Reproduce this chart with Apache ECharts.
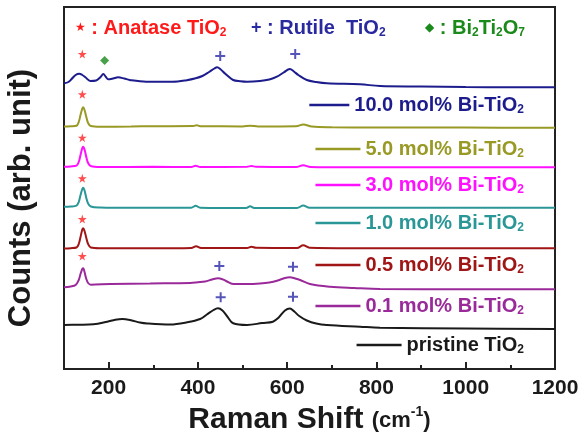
<!DOCTYPE html>
<html><head><meta charset="utf-8">
<script src="https://cdn.jsdelivr.net/npm/echarts@6/dist/echarts.min.js"></script>
<style>html,body{margin:0;padding:0;background:#fff}#c{width:582px;height:445px}</style>
</head><body><div id="c"></div>
<script>
// ---- data (y values are offset arbitrary counts) ----
const xTickValues = [200, 400, 600, 800, 1000, 1200];
const xMinorTickValues = [300, 500, 700, 900, 1100];
const seriesNames = ['10.0 mol% Bi-TiO2','5.0 mol% Bi-TiO2','3.0 mol% Bi-TiO2','1.0 mol% Bi-TiO2','0.5 mol% Bi-TiO2','0.1 mol% Bi-TiO2','pristine TiO2'];
const seriesColors = ['#1c1c8c','#999926','#ff10ff','#2a9696','#a01616','#9a2a9a','#1a1a1a'];

const bi100 = [[100,285.7],[110,287],[117,290],[126,294],[134,295.3],[141,294],[148,291.7],[159,288],[172,288.5],[182,292],[188,295],[194,292],[199,289.7],[210,290.5],[221,291.7],[235,290.5],[247,289],[284,287.3],[343,287.3],[375,288.8],[395,290.7],[410,293],[425,297],[437,300.5],[443,301.7],[450,300],[462,295],[479,289],[495,287.8],[510,287.3],[539,288],[560,289.5],[577,292.3],[592,296.5],[606,300],[615,297.5],[625,294],[644,289],[665,287],[689,285.7],[763,284.7],[808,283],[900,282.5],[1000,282],[1100,281.8],[1200,281.7]];
const bi50 = [[100,242.5],[115,242.8],[128,243.3],[133,247],[137,254],[141,260.5],[143,261.7],[146,259],[150,252],[154,246],[160,243],[181,242.3],[250,242.5],[300,242.8],[390,243],[397,243.8],[405,242.8],[500,242.6],[517,243.3],[535,242.6],[620,242.8],[636,244.5],[655,242.5],[700,241.8],[800,241.5],[1000,241.4],[1200,241.3]];
const bi30 = [[100,202.3],[115,202.6],[128,203.3],[133,207],[137,214],[141,221],[143,222.3],[146,219.5],[150,212],[154,206],[160,203],[181,202],[300,202.2],[385,202],[395,203.3],[405,202],[510,202.2],[520,203],[530,202.2],[620,202],[636,203.8],[652,202],[700,201.8],[900,201.7],[1200,201.7]];
const bi10 = [[100,162.3],[115,162.5],[128,163.3],[133,167],[137,174],[141,180],[143,181.3],[146,178.5],[150,171],[154,165.5],[160,162.5],[181,161.5],[250,161.2],[385,161.3],[395,163.2],[405,161.3],[508,161],[517,162.7],[526,161],[622,161],[636,163.5],[650,161.3],[740,161.2],[1200,161.3]];
const bi05 = [[100,120.5],[115,120.8],[128,121.5],[133,125],[137,132],[141,139.5],[143,140.7],[146,138],[150,131],[154,125],[160,121.5],[181,120.8],[300,120.7],[385,121],[396,122.7],[407,121],[510,121],[520,122.3],[530,121.2],[622,121],[636,123.7],[650,121.3],[750,120.8],[1200,120.7]];
const bi01 = [[100,81.7],[115,82.5],[126,84],[133,89],[137,95],[141,100],[143,100.7],[146,97],[150,90],[154,86],[160,84.3],[204,85],[293,85.5],[383,86],[400,86.7],[416,87.5],[432,89.5],[445,90.7],[455,89.8],[463,88],[479,85],[510,85],[539,85.5],[560,86.5],[579,88.5],[595,91],[606,91.7],[618,90.5],[629,89],[651,85],[696,82.3],[750,81],[808,80],[1000,79.8],[1200,79.7]];
const pristine = [[100,44],[130,44.3],[166,44.7],[197,47.3],[215,49.3],[231,50],[250,48.8],[270,46.5],[287,45.5],[338,44.5],[376,46.7],[405,50],[420,54.5],[435,59],[445,60.7],[455,58.5],[465,53],[479,45.7],[510,44],[544,46],[568,47.3],[580,51],[595,58.5],[606,60.5],[616,57.5],[627,53],[644,48.5],[665,45.5],[689,44],[763,42.3],[808,41.3],[1000,40.5],[1200,40]];
const spectra = [bi100, bi50, bi30, bi10, bi05, bi01, pristine];

const anataseMarks = [[141,315],[141,274.7],[141,231.3],[141,190.7],[141,150],[141,113]];
const rutileMarks = [[450,313],[618,315],[448,103],[613,102.3],[451,71.7],[613,72.3]];
const biMarks = [[191,308.5]];
const legendCenters = [105,149,185,223,265,306,345];

// ---- chart ----
const FF = '"Liberation Sans", Arial, sans-serif';
const subRich = (size) => ({
  t: {fontSize: size, fontWeight: 'bold', fontFamily: FF, lineHeight: 24},
  s: {fontSize: 12, fontWeight: 'bold', fontFamily: FF, lineHeight: 12, verticalAlign: 'bottom', padding: [0,0,1,0]},
  m: {fontSize: 12, fontFamily: 'DejaVu Sans', lineHeight: 24},
  p: {fontSize: 18, fontWeight: 'bold', fontFamily: FF, lineHeight: 24}
});
const fmtName = n => n.replace(/^(.*TiO)2$/, '{t|$1}{s|2}');

const chart = echarts.init(document.getElementById('c'), null, {renderer: 'canvas'});
const series = spectra.map((d, i) => ({
  name: seriesNames[i], type: 'line', data: d, xAxisIndex: 0, yAxisIndex: 0,
  symbol: 'none', smooth: 0.35, lineStyle: {color: seriesColors[i], width: 2}, itemStyle: {color: seriesColors[i]},
  silent: true, z: 3
}));
const starPath = 'path://M50,0 L61,35 L98,35 L68,57 L79,91 L50,70 L21,91 L32,57 L2,35 L39,35 Z';
const plusPath = 'path://M40,0 H60 V40 H100 V60 H60 V100 H40 V60 H0 V40 H40 Z';
series.push({type: 'scatter', data: anataseMarks, symbol: starPath, symbolSize: 9, itemStyle: {color: '#ff2020'}, silent: true, z: 4});
series.push({type: 'scatter', data: rutileMarks, symbol: plusPath, symbolSize: 10, itemStyle: {color: '#2a2aa8'}, silent: true, z: 4});
series.push({type: 'scatter', data: biMarks, symbol: 'diamond', symbolSize: 9, itemStyle: {color: '#1a8a1a'}, silent: true, z: 4});

const legends = seriesNames.map((n, i) => ({
  data: [n], right: 58, top: legendCenters[i] - 10, padding: 0, icon: 'rect',
  itemWidth: i === 0 ? 40 : 45, itemHeight: 2.5, selectedMode: false,
  formatter: fmtName,
  textStyle: {color: seriesColors[i], fontSize: 20, fontWeight: 'bold', fontFamily: FF, rich: subRich(20)}
}));

const option = {
  animation: false,
  backgroundColor: '#fff',
  grid: [
    {left: 64, right: 27, top: 7, bottom: 76, show: true, borderColor: '#222', borderWidth: 2, backgroundColor: 'transparent', outerBoundsMode: 'none', containLabel: false},
    {left: 64, right: 27, top: 7, bottom: 76, show: false, outerBoundsMode: 'none', containLabel: false}
  ],
  legend: legends,
  xAxis: [
    {type: 'value', gridIndex: 0, min: 100, max: 1200,
     axisLine: {show: false}, splitLine: {show: false},
     axisTick: {inside: true, length: 7, customValues: xTickValues, lineStyle: {color: '#222', width: 2}},
     axisLabel: {customValues: xTickValues, margin: 9, fontSize: 21, fontWeight: 'bold', color: '#1a1a1a', fontFamily: FF, formatter: v => String(v)},
     name: '{a|Raman Shift }{b|(cm}{c|-1}{b|)}', nameLocation: 'middle', nameGap: 36,
     nameTextStyle: {color: '#1a1a1a', rich: {
       a: {fontSize: 30, fontWeight: 'bold', fontFamily: FF, lineHeight: 30, verticalAlign: 'bottom'},
       b: {fontSize: 22, fontWeight: 'bold', fontFamily: FF, lineHeight: 22, verticalAlign: 'bottom', padding: [0,0,3,0]},
       c: {fontSize: 14, fontWeight: 'bold', fontFamily: FF, lineHeight: 14, verticalAlign: 'top'}
     }}},
    {type: 'value', gridIndex: 1, min: 100, max: 1200,
     axisLine: {show: false}, splitLine: {show: false}, axisLabel: {show: false},
     axisTick: {inside: true, length: 4, customValues: xMinorTickValues, lineStyle: {color: '#222', width: 2}}}
  ],
  yAxis: [
    {type: 'value', gridIndex: 0, min: 0, max: 362,
     axisLine: {show: false}, axisTick: {show: false}, axisLabel: {show: false}, splitLine: {show: false},
     name: 'Counts (arb. unit)', nameLocation: 'middle', nameGap: 27,
     nameTextStyle: {fontSize: 31, fontWeight: 'bold', fontFamily: FF, color: '#1a1a1a', padding: [0, 20, 0, 0]}},
    {type: 'value', gridIndex: 1, min: 0, max: 362, show: false}
  ],
  graphic: [
    {type: 'text', x: 75, y: 28, silent: true, style: {text: '{m|★}{t| : Anatase TiO}{s|2}', fill: '#ff1a1a', verticalAlign: 'middle', rich: subRich(20)}},
    {type: 'text', x: 251, y: 28, silent: true, style: {text: '{p|+}{t| : Rutile  TiO}{s|2}', fill: '#2a2aa0', verticalAlign: 'middle', rich: subRich(20)}},
    {type: 'text', x: 425, y: 28, silent: true, style: {text: '{m|◆}{t| : Bi}{s|2}{t|Ti}{s|2}{t|O}{s|7}', fill: '#1a8a1a', verticalAlign: 'middle', rich: subRich(20)}}
  ],
  series: series
};
chart.setOption(option);
</script>
</body></html>
